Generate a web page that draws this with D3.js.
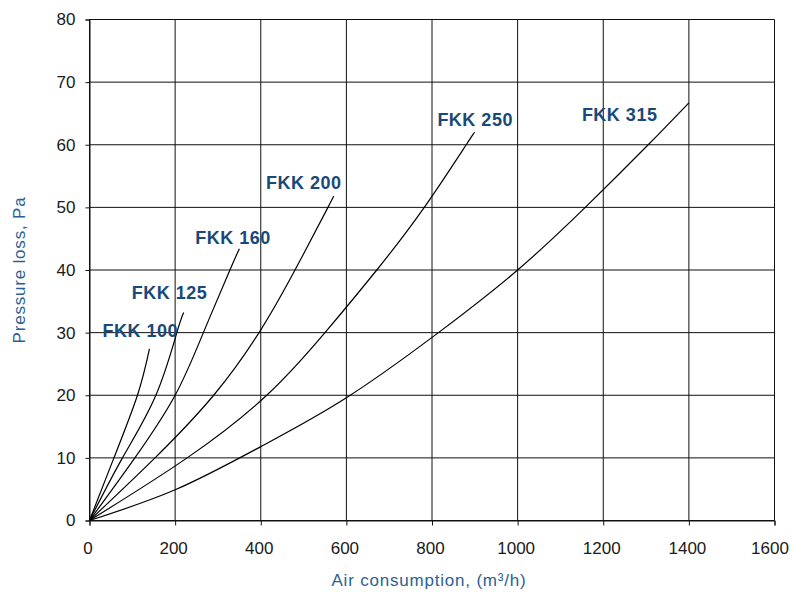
<!DOCTYPE html>
<html>
<head>
<meta charset="utf-8">
<script src="https://cdn.jsdelivr.net/npm/d3@7"></script>
<style>
  html, body { margin: 0; padding: 0; background: #fff; }
  svg { display: block; font-family: "Liberation Sans", Arial, Helvetica, sans-serif; }
</style>
</head>
<body>
<svg id="chart" width="792" height="592"></svg>
<script>
// ---- data ----
const seriesNames = ["FKK 100", "FKK 125", "FKK 160", "FKK 200", "FKK 250", "FKK 315"];
const fkk100 = [[0,0],[57,10],[112,20],[140,27.4]];
const fkk125 = [[0,0],[77,10],[155,20],[204,30],[220,33.2]];
const fkk160 = [[0,0],[106,10],[200,20],[266,30],[328,40],[350,43.4]];
const fkk200 = [[0,0],[153,10],[290,20],[396,30],[480,40],[557,50],[569,51.6]];
const fkk250 = [[0,0],[228,10],[414,20],[550,30],[671,40],[782,50],[880,60],[899,61.9]];
const fkk315 = [[0,0],[200,4.9],[400,11.8],[600,19.6],[815,30],[1000,40],[1158,50],[1305,60],[1400,66.7]];
const xTicks = [0, 200, 400, 600, 800, 1000, 1200, 1400, 1600];
const yTicks = [0, 10, 20, 30, 40, 50, 60, 70, 80];
const xTitle = "Air consumption, (m\u00B3/h)";
const yTitle = "Pressure loss, Pa";

const series = [fkk100, fkk125, fkk160, fkk200, fkk250, fkk315];
// label offsets (pixels) relative to each curve's end point
const labelOffsets = [[-47,-12],[-52,-14],[-44,-5],[-67,-8],[-37,-7],[-107,18]];

// ---- layout ----
const svg = d3.select("#chart");
const x = d3.scaleLinear().domain([0, 1600]).range([89.5, 774.5]);
const y = d3.scaleLinear().domain([0, 80]).range([520.5, 19.5]);
const labelColor = "#17497a";
const titleColor = "#2b5f93";

// grid
svg.append("g").selectAll("line").data(xTicks).join("line")
  .attr("x1", d => x(d)).attr("x2", d => x(d))
  .attr("y1", y(80)).attr("y2", y(0))
  .attr("stroke", "#111").attr("stroke-width", 1);
svg.append("g").selectAll("line").data(yTicks).join("line")
  .attr("x1", x(0)).attr("x2", x(1600))
  .attr("y1", d => y(d)).attr("y2", d => y(d))
  .attr("stroke", "#111").attr("stroke-width", 1);

// axes
const xAxis = svg.append("g").attr("transform", `translate(0,${y(0)})`)
  .call(d3.axisBottom(x).tickValues(xTicks).tickSize(5).tickPadding(16).tickFormat(d3.format("d")));
const yAxis = svg.append("g").attr("transform", `translate(${x(0)},0)`)
  .call(d3.axisLeft(y).tickValues(yTicks).tickSize(4).tickPadding(10).tickFormat(d3.format("d")));
[xAxis, yAxis].forEach(g => {
  g.select(".domain").attr("stroke", "#111");
  g.selectAll(".tick line").attr("stroke", "#111");
  g.selectAll("text").attr("font-size", 17).attr("fill", "#1a1a1a")
    .attr("font-family", "\"Liberation Sans\", Arial, sans-serif");
});
xAxis.selectAll(".tick text").attr("dx", d => d === 1600 ? -5 : -2);

// curves
const line = d3.line().x(d => x(d[0])).y(d => y(d[1])).curve(d3.curveNatural);
svg.append("g").selectAll("path").data(series).join("path")
  .attr("d", line)
  .attr("fill", "none").attr("stroke", "#000").attr("stroke-width", 1.2);

// series labels
svg.append("g").selectAll("text").data(series).join("text")
  .attr("x", (d, i) => x(d[d.length - 1][0]) + labelOffsets[i][0])
  .attr("y", (d, i) => y(d[d.length - 1][1]) + labelOffsets[i][1])
  .attr("font-size", 18).attr("font-weight", "bold").attr("fill", labelColor)
  .attr("letter-spacing", "0.5px")
  .text((d, i) => seriesNames[i]);

// axis titles
svg.append("text")
  .attr("x", (x(0) + x(1600)) / 2 - 3).attr("y", 586)
  .attr("text-anchor", "middle").attr("font-size", 17).attr("fill", titleColor)
  .attr("letter-spacing", "0.8px")
  .text(xTitle);
svg.append("text")
  .attr("transform", `translate(25,${(y(0) + y(80)) / 2}) rotate(-90)`)
  .attr("text-anchor", "middle").attr("font-size", 17).attr("fill", titleColor)
  .attr("letter-spacing", "0.8px")
  .text(yTitle);
</script>
</body>
</html>
